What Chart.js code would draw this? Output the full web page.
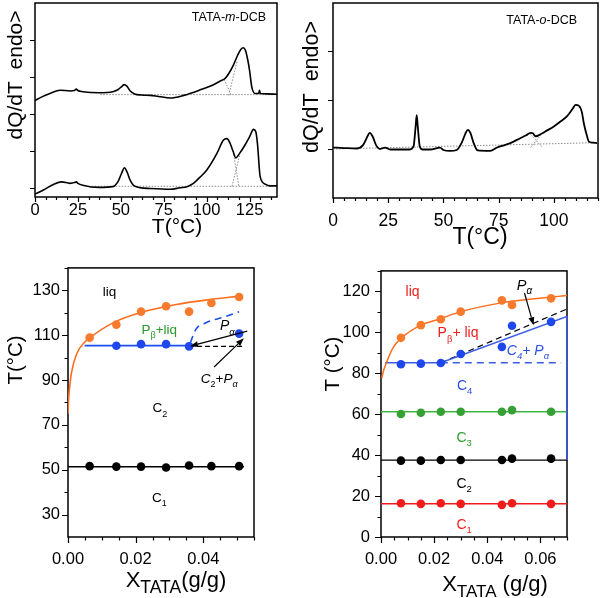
<!DOCTYPE html>
<html><head><meta charset="utf-8">
<script src="https://cdn.jsdelivr.net/npm/chart.js@4.4.0/dist/chart.umd.min.js"></script>
<style>
html,body{margin:0;padding:0;background:#fff;}
#wrap{position:relative;width:600px;height:598px;overflow:hidden;background:#fff;}
canvas{position:absolute;}
</style></head><body><div id="wrap">
<canvas id="cA" style="left:0;top:0" width="300" height="250"></canvas>
<canvas id="cB" style="left:300px;top:0" width="300" height="250"></canvas>
<canvas id="cC" style="left:0;top:250px" width="300" height="348"></canvas>
<canvas id="cD" style="left:300px;top:250px" width="300" height="348"></canvas>
</div>
<script>
// ---------- DATA: top-left DSC (TATA-m-DCB) ----------
const mUpperT = [0, 4, 8.7, 14.6, 20.4, 23, 24, 25, 27.8, 37.5, 45.3, 48.5, 50.5, 52, 53.5, 55.5, 58, 62, 67.1, 72, 78.8, 86.6, 96.3, 104, 108, 110.8, 113, 115.6, 118, 120, 121.3, 122.6, 124, 125, 126.3, 128.2, 130.3, 130.8, 131.3, 135, 141];
const mUpperV = [2.36, 2.46, 2.55, 2.64, 2.62, 2.63, 2.67, 2.63, 2.6, 2.57, 2.6, 2.66, 2.74, 2.79, 2.75, 2.62, 2.54, 2.51, 2.5, 2.47, 2.43, 2.5, 2.65, 2.79, 2.89, 2.96, 3.1, 3.32, 3.58, 3.75, 3.79, 3.72, 3.45, 3.18, 2.73, 2.55, 2.55, 2.64, 2.55, 2.54, 2.53];
const mLowerT = [0, 4.9, 10.7, 15.5, 20.4, 23, 24, 25, 27.8, 37.5, 45.3, 48.5, 50.5, 52.1, 53.7, 55.5, 58.2, 67.1, 78.8, 84.5, 88.6, 92.3, 96, 100.1, 106, 109.8, 111.8, 113.5, 115.3, 117, 119.2, 122, 125, 127.3, 128.6, 129.6, 131.2, 134.1, 137, 141];
const mLowerV = [-0.17, -0.06, 0.09, 0.16, 0.12, 0.14, 0.16, 0.12, 0.07, 0.01, 0.03, 0.18, 0.4, 0.54, 0.42, 0.2, 0.04, -0.02, -0.04, 0.0, 0.03, 0.12, 0.28, 0.48, 0.93, 1.29, 1.33, 1.22, 1.0, 0.81, 0.93, 1.13, 1.38, 1.58, 1.52, 1.2, 0.3, 0.1, 0.05, 0.05];
const mUpperBaseT = [38, 141];
const mUpperBaseV = [2.52, 2.52];
const mUpperDecoAT = [110.2, 114.5];
const mUpperDecoAV = [2.93, 2.5];
const mUpperDecoBT = [112.8, 117.8];
const mUpperDecoBV = [2.5, 3.42];
const mLowerBaseT = [33, 137];
const mLowerBaseV = [0.04, 0.04];
const mLowerDecoAT = [114.8, 119.3];
const mLowerDecoAV = [0.04, 0.9];
const mLowerDecoBT = [115.8, 118.8];
const mLowerDecoBV = [0.9, 0.04];
const mTicksX = [0, 25, 50, 75, 100, 125];

// ---------- DATA: top-right DSC (TATA-o-DCB) ----------
const oT = [0, 5, 10.6, 13.6, 15, 16.7, 18, 19.5, 21.3, 23.6, 25.9, 30, 34.8, 36.5, 37.4, 37.9, 38.4, 39.3, 40.5, 44, 48.5, 50, 53, 56, 58.5, 60, 61.1, 62.3, 63.7, 65.5, 71.2, 74.3, 77, 80.3, 84.8, 87.5, 89.4, 90.5, 91.7, 94, 97, 100, 103, 106, 108.5, 109.8, 111.4, 112.7, 113.6, 114.8, 115.9, 117.5, 119.7];
const oV = [1.03, 1.02, 1.01, 1.08, 1.2, 1.33, 1.25, 1.08, 1.0, 1.03, 0.99, 0.99, 0.99, 1.06, 1.45, 1.69, 1.45, 1.05, 0.99, 0.99, 1.03, 0.98, 0.96, 0.98, 1.15, 1.32, 1.39, 1.32, 1.12, 0.97, 0.96, 1.03, 1.07, 1.12, 1.22, 1.28, 1.33, 1.32, 1.26, 1.3, 1.38, 1.46, 1.56, 1.67, 1.82, 1.9, 1.88, 1.75, 1.52, 1.3, 1.15, 1.13, 1.12];
const oBaseT = [0, 120];
const oBaseV = [1.0, 1.13];
const oDecoAT = [89.5, 94];
const oDecoAV = [1.03, 1.28];
const oDecoBT = [89.5, 94.5];
const oDecoBV = [1.3, 1.05];
const oTicksX = [0, 25, 50, 75, 100];

// ---------- DATA: bottom-left phase diagram (m-DCB) ----------
const cX = [0.0064, 0.0143, 0.0216, 0.029, 0.0358, 0.0424, 0.0506];
const cLiqPtY = [108.9, 114.7, 120.5, 122.9, 120.5, 124.4, 127.0];
const cC1PtY = [51.6, 51.4, 51.4, 51.0, 51.9, 51.6, 51.6];
const cTransX = [0.0143, 0.0216, 0.029, 0.0358, 0.0506];
const cTransY = [105.3, 106, 106, 105, 110.7];
const cLiqCurveX = [0, 0.0002, 0.0005, 0.001, 0.0025, 0.005, 0.007, 0.0133, 0.022, 0.032, 0.042, 0.0506];
const cLiqCurveY = [75, 82, 87, 93, 101.5, 107, 109.5, 115.5, 120.3, 123.7, 125.9, 127.4];
const cTransLineX = [0.0049, 0.0358];
const cTransLineY = [105.3, 105.3];
const cPaCurveX = [0.0362, 0.0378, 0.0408, 0.0467, 0.0506];
const cPaCurveY = [106.7, 112.6, 115.5, 118.4, 120.5];
const cDashX = [0.0358, 0.052];
const cDashY = [105, 105];
const cC1LineX = [0, 0.052];
const cC1LineY = [51.3, 51.3];
const cTicksX = [0, 0.02, 0.04];
const cTicksY = [30, 50, 70, 90, 110, 130];

// ---------- DATA: bottom-right phase diagram (o-DCB) ----------
const dX = [0.0075, 0.015, 0.0225, 0.03, 0.0455, 0.0493, 0.064];
const dLiqPtY = [97.3, 103.5, 106.4, 110.1, 115.6, 113.4, 116.6];
const dC4PtY = [84.4, 84.7, 85.0, 89.4, 92.9, 103.2, 105.1];
const dC3PtY = [60.1, 60.7, 61.2, 61.2, 61.2, 62.0, 61.2];
const dC2PtY = [37.3, 37.3, 37.6, 37.6, 37.6, 38.3, 38.3];
const dC1PtY = [16.5, 16.2, 16.5, 16.2, 15.7, 16.5, 16.2];
const dLiqCurveX = [0.0003, 0.001, 0.0019, 0.0046, 0.0078, 0.015, 0.0225, 0.03, 0.0459, 0.0559, 0.07];
const dLiqCurveY = [77.6, 81.5, 84.7, 92.6, 97.3, 103.5, 106.7, 110.1, 114.5, 116.1, 118];
const dC4LineX = [0.0015, 0.0225, 0.07];
const dC4LineY = [85.1, 85.1, 107.8];
const dC4DashX = [0.0225, 0.0678];
const dC4DashY = [85.1, 85.1];
const dPaDashX = [0.0225, 0.07];
const dPaDashY = [85.1, 111.4];
const dEdgeX = [0.07, 0.07];
const dEdgeY = [37.6, 107.8];
const dC3LineX = [0, 0.07];
const dC3LineY = [61.2, 61.2];
const dC2LineX = [0, 0.07];
const dC2LineY = [37.6, 37.6];
const dC1LineX = [0, 0.07];
const dC1LineY = [16.2, 16.2];
const dTicksX = [0, 0.02, 0.04, 0.06];
const dTicksY = [0, 20, 40, 60, 80, 100, 120];

// ---------- helpers ----------
const FONT = "'Liberation Sans', Arial, Helvetica, sans-serif";
Chart.defaults.font.family = FONT;
Chart.defaults.color = '#000';

function xy(xs, ys) { return xs.map((x, i) => ({ x: x, y: ys[i] })); }
function steps(a, b, s) { const r = []; for (let v = a; v <= b + 1e-9; v += s) r.push(+v.toFixed(6)); return r; }
function lineDS(xs, ys, color, width, dash, extra) {
  return Object.assign({ data: xy(xs, ys), showLine: true, borderColor: color, backgroundColor: color,
    borderWidth: width, borderDash: dash || [], pointRadius: 0, pointHoverRadius: 0, order: 2, tension: 0 }, extra || {});
}
function ptsDS(xs, ys, color, r) {
  return { data: xy(xs, ys), showLine: false, pointRadius: r, pointHoverRadius: r,
    backgroundColor: color, borderColor: color, borderWidth: 0, order: 0 };
}
function fontOf(p, base) {
  const s = p.sub ? (p.ss || base * 0.7) : base;
  return (p.i ? 'italic ' : '') + s + 'px ' + FONT;
}
function richWidth(ctx, parts, base) {
  let w = 0;
  for (const p of parts) { ctx.font = fontOf(p, base); w += ctx.measureText(p.t).width; }
  return w;
}
function drawRich(ctx, x, y, parts, base, color, align) {
  const w = richWidth(ctx, parts, base);
  let cx = align === 'left' ? x : x - w / 2;
  ctx.fillStyle = color;
  ctx.textBaseline = 'alphabetic';
  ctx.textAlign = 'left';
  for (const p of parts) {
    ctx.font = fontOf(p, base);
    ctx.fillText(p.t, cx, y + (p.sub ? (p.dy != null ? p.dy : base * 0.3) : 0));
    cx += ctx.measureText(p.t).width;
  }
}
function arrow(ctx, x1, y1, x2, y2, color) {
  ctx.save();
  ctx.strokeStyle = color; ctx.fillStyle = color; ctx.lineWidth = 1.2;
  const ang = Math.atan2(y2 - y1, x2 - x1), L = 8, W = 3;
  const bx = x2 - L * Math.cos(ang), by = y2 - L * Math.sin(ang);
  ctx.beginPath(); ctx.moveTo(x1, y1); ctx.lineTo(bx, by); ctx.stroke();
  ctx.beginPath(); ctx.moveTo(x2, y2);
  ctx.lineTo(bx + W * Math.sin(ang), by - W * Math.cos(ang));
  ctx.lineTo(bx - W * Math.sin(ang), by + W * Math.cos(ang));
  ctx.closePath(); ctx.fill();
  ctx.restore();
}
function makeDecor(cfg) {
  return {
    id: 'decor',
    beforeDatasetsDraw(chart) {
      const ctx = chart.ctx, a = chart.chartArea;
      ctx.save(); ctx.strokeStyle = '#000'; ctx.lineWidth = 1.5;
      ctx.strokeRect(a.left, a.top, a.right - a.left, a.bottom - a.top);
      ctx.restore();
    },
    afterDatasetsDraw(chart) {
      const ctx = chart.ctx, a = chart.chartArea, xs = chart.scales.x, ys = chart.scales.y;
      ctx.save();
      ctx.strokeStyle = '#000'; ctx.lineWidth = 1.2;
      ctx.beginPath();
      const tk = cfg.ticks;
      for (const v of tk.xMajor) { const p = Math.round(xs.getPixelForValue(v)) + 0.5; ctx.moveTo(p, a.bottom); ctx.lineTo(p, a.bottom + tk.majLen); }
      for (const v of tk.xMinor) { const p = Math.round(xs.getPixelForValue(v)) + 0.5; ctx.moveTo(p, a.bottom); ctx.lineTo(p, a.bottom + tk.minLen); }
      for (const v of tk.yMajor) { const p = Math.round(ys.getPixelForValue(v)) + 0.5; ctx.moveTo(a.left, p); ctx.lineTo(a.left - tk.majLen, p); }
      for (const v of tk.yMinor) { const p = Math.round(ys.getPixelForValue(v)) + 0.5; ctx.moveTo(a.left, p); ctx.lineTo(a.left - tk.minLen, p); }
      ctx.stroke();
      for (const ar of (cfg.arrows || [])) {
        arrow(ctx, xs.getPixelForValue(ar.x1), ys.getPixelForValue(ar.y1), xs.getPixelForValue(ar.x2), ys.getPixelForValue(ar.y2), ar.color || '#000');
      }
      for (const lb of (cfg.labels || [])) {
        drawRich(ctx, xs.getPixelForValue(lb.x), ys.getPixelForValue(lb.y) + lb.size * 0.36, lb.parts, lb.size, lb.color || '#000', 'center');
      }
      for (const t of (cfg.titles || [])) {
        if (t.rot) {
          ctx.save(); ctx.translate(t.x, t.y); ctx.rotate(-Math.PI / 2);
          drawRich(ctx, 0, t.size * 0.36, t.parts, t.size, '#000', 'center');
          ctx.restore();
        } else {
          drawRich(ctx, t.x, t.y, t.parts, t.size, '#000', 'center');
        }
      }
      ctx.restore();
    }
  };
}
function makeChart(id, o) {
  return new Chart(document.getElementById(id), {
    type: 'scatter',
    data: { datasets: o.datasets },
    options: {
      responsive: false, animation: false, devicePixelRatio: 1, events: [],
      layout: { padding: { top: o.padTop, right: o.padRight, left: 0, bottom: 0 } },
      plugins: { legend: { display: false }, tooltip: { enabled: false } },
      scales: {
        x: {
          type: 'linear', min: o.xMin, max: o.xMax,
          grid: { display: false, drawTicks: false }, border: { display: false },
          afterBuildTicks: s => { s.ticks = o.xTicks.map(v => ({ value: v })); },
          afterFit: s => { s.height = o.xH; },
          ticks: { padding: o.xPad, font: { size: o.tickSize }, color: '#000', maxRotation: 0, autoSkip: false,
                   callback: v => o.xFmt(v) }
        },
        y: {
          type: 'linear', min: o.yMin, max: o.yMax,
          grid: { display: false, drawTicks: false }, border: { display: false },
          afterBuildTicks: s => { s.ticks = o.yTicks.map(v => ({ value: v })); },
          afterFit: s => { s.width = o.yW; },
          ticks: { display: o.yLabels, padding: o.yPad, font: { size: o.tickSize }, color: '#000', autoSkip: false,
                   callback: v => String(v) }
        }
      }
    },
    plugins: [makeDecor(o.decor)]
  });
}

const GRAY = '#8a8a8a';
const DOT = [1.5, 1.5];
const mono = { cubicInterpolationMode: 'monotone' };
const dqTitle = [{ t: 'dQ/dT  endo>' }];

// ---------- Panel A: top-left ----------
makeChart('cA', {
  xMin: 0, xMax: 141, yMin: -0.25, yMax: 5, xTicks: mTicksX, yTicks: [0, 1, 2, 3, 4],
  xFmt: v => String(v), yLabels: false, tickSize: 16.5, xPad: 4, yPad: 4,
  padTop: 3, padRight: 23, xH: 53, yW: 35,
  datasets: [
    lineDS(mUpperBaseT, mUpperBaseV, GRAY, 1, DOT),
    lineDS(mUpperDecoAT, mUpperDecoAV, GRAY, 1, DOT),
    lineDS(mUpperDecoBT, mUpperDecoBV, GRAY, 1, DOT),
    lineDS(mLowerBaseT, mLowerBaseV, GRAY, 1, DOT),
    lineDS(mLowerDecoAT, mLowerDecoAV, GRAY, 1, DOT),
    lineDS(mLowerDecoBT, mLowerDecoBV, GRAY, 1, DOT),
    lineDS(mUpperT, mUpperV, '#000', 1.6, [], Object.assign({ order: 1 }, mono)),
    lineDS(mLowerT, mLowerV, '#000', 1.6, [], Object.assign({ order: 1 }, mono))
  ],
  decor: {
    ticks: { xMajor: mTicksX, xMinor: steps(0, 141, 6.25).filter(v => v % 25 !== 0), yMajor: [0, 1, 2, 3, 4], yMinor: [], majLen: 5, minLen: 3 },
    labels: [{ x: 113, y: 4.64, size: 12.5, parts: [{ t: 'TATA-' }, { t: 'm', i: 1 }, { t: '-DCB' }] }],
    titles: [
      { rot: true, x: 14, y: 75, size: 21, parts: dqTitle },
      { x: 177, y: 233, size: 21, parts: [{ t: 'T(°C)' }] }
    ]
  }
});

// ---------- Panel B: top-right ----------
makeChart('cB', {
  xMin: 0, xMax: 120, yMin: 0, yMax: 3.98, xTicks: oTicksX, yTicks: [1, 2, 3],
  xFmt: v => String(v), yLabels: false, tickSize: 17.5, xPad: 13, yPad: 4,
  padTop: 3, padRight: 2, xH: 52, yW: 33,
  datasets: [
    lineDS(oBaseT, oBaseV, GRAY, 1, DOT),
    lineDS(oDecoAT, oDecoAV, GRAY, 1, DOT),
    lineDS(oDecoBT, oDecoBV, GRAY, 1, DOT),
    lineDS(oT, oV, '#000', 1.8, [], Object.assign({ order: 1 }, mono))
  ],
  decor: {
    ticks: { xMajor: oTicksX, xMinor: steps(0, 120, 5).filter(v => v % 25 !== 0), yMajor: [1, 2, 3], yMinor: [], majLen: 5, minLen: 3 },
    labels: [{ x: 94.5, y: 3.64, size: 12.5, parts: [{ t: 'TATA-' }, { t: 'o', i: 1 }, { t: '-DCB' }] }],
    titles: [
      { rot: true, x: 10, y: 87, size: 21.5, parts: dqTitle },
      { x: 180, y: 244, size: 23, parts: [{ t: 'T(°C)' }] }
    ]
  }
});

// ---------- Panel C: bottom-left ----------
const ORANGE_L = '#ff6d1c', ORANGE_P = '#f77a2d', BLUE_L = '#1a4ff2', BLUE_P = '#1f47ee';
makeChart('cC', {
  xMin: 0, xMax: 0.055, yMin: 20, yMax: 140, xTicks: cTicksX, yTicks: cTicksY,
  xFmt: v => v.toFixed(2), yLabels: true, tickSize: 16.5, xPad: 13, yPad: 8,
  padTop: 10, padRight: 46, xH: 61, yW: 68,
  datasets: [
    ptsDS(cX, cLiqPtY, ORANGE_P, 4.3),
    ptsDS(cTransX, cTransY, BLUE_P, 4.3),
    ptsDS(cX, cC1PtY, '#000', 4.3),
    lineDS(cLiqCurveX, cLiqCurveY, ORANGE_L, 1.6, [], mono),
    lineDS(cTransLineX, cTransLineY, BLUE_L, 1.8),
    lineDS(cPaCurveX, cPaCurveY, BLUE_L, 1.6, [7, 5], mono),
    lineDS(cDashX, cDashY, '#000', 1.2, [5, 3]),
    lineDS(cC1LineX, cC1LineY, '#000', 1.4)
  ],
  decor: {
    ticks: { xMajor: cTicksX, xMinor: steps(0, 0.055, 0.005).filter(v => Math.abs(v / 0.02 - Math.round(v / 0.02)) > 1e-6), yMajor: cTicksY, yMinor: steps(40, 140, 20), majLen: 6, minLen: 3.5 },
    arrows: [
      { x1: 0.053, y1: 111.8, x2: 0.0361, y2: 105.1 },
      { x1: 0.0432, y1: 95.8, x2: 0.052, y2: 108.6 }
    ],
    labels: [
      { x: 0.0123, y: 129.6, size: 13.5, parts: [{ t: 'liq' }] },
      { x: 0.027, y: 112.6, size: 13.5, color: '#2a9a2a', parts: [{ t: 'P' }, { t: 'β', sub: 1, ss: 9 }, { t: '+liq' }] },
      { x: 0.0471, y: 114.4, size: 14, parts: [{ t: 'P', i: 1 }, { t: 'α', sub: 1, i: 1, ss: 9.5 }] },
      { x: 0.0447, y: 90.8, size: 13.5, parts: [{ t: 'C', i: 1 }, { t: '2', sub: 1, ss: 9 }, { t: '+' }, { t: 'P', i: 1 }, { t: 'α', sub: 1, i: 1, ss: 9 }] },
      { x: 0.0272, y: 77.7, size: 13.5, parts: [{ t: 'C' }, { t: '2', sub: 1, ss: 9 }] },
      { x: 0.027, y: 37.8, size: 13.5, parts: [{ t: 'C' }, { t: '1', sub: 1, ss: 9 }] }
    ],
    titles: [
      { rot: true, x: 15, y: 110, size: 20.5, parts: [{ t: 'T(°C)' }] },
      { x: 176, y: 337, size: 22, parts: [{ t: 'X' }, { t: 'TATA', sub: 1, ss: 17.5, dy: 6 }, { t: '(g/g)' }] }
    ]
  }
});

// ---------- Panel D: bottom-right ----------
const BLUE_R = '#3b5fe4', GREEN_L = '#3fb43f', GREEN_P = '#35a135', RED = '#f01c1c';
makeChart('cD', {
  xMin: 0, xMax: 0.07, yMin: 0, yMax: 130, xTicks: dTicksX, yTicks: dTicksY,
  xFmt: v => v.toFixed(2), yLabels: true, tickSize: 16.5, xPad: 13, yPad: 11,
  padTop: 10, padRight: 33, xH: 61, yW: 81,
  datasets: [
    ptsDS(dX, dLiqPtY, ORANGE_P, 4.3),
    ptsDS(dX, dC4PtY, BLUE_P, 4.3),
    ptsDS(dX, dC3PtY, GREEN_P, 4.3),
    ptsDS(dX, dC2PtY, '#000', 4.3),
    ptsDS(dX, dC1PtY, RED, 4.3),
    lineDS(dLiqCurveX, dLiqCurveY, ORANGE_L, 1.5, [], mono),
    lineDS(dC4LineX, dC4LineY, BLUE_R, 1.5),
    lineDS(dC4DashX, dC4DashY, BLUE_R, 1.5, [7, 5]),
    lineDS(dPaDashX, dPaDashY, '#000', 1.2, [6, 4]),
    lineDS(dEdgeX, dEdgeY, BLUE_R, 1.5, [], { clip: 4 }),
    lineDS(dC3LineX, dC3LineY, GREEN_L, 1.5),
    lineDS(dC2LineX, dC2LineY, '#000', 1.3),
    lineDS(dC1LineX, dC1LineY, RED, 1.5)
  ],
  decor: {
    ticks: { xMajor: dTicksX, xMinor: steps(0, 0.07, 0.005).filter(v => Math.abs(v / 0.02 - Math.round(v / 0.02)) > 1e-6), yMajor: dTicksY, yMinor: steps(10, 130, 20), majLen: 6, minLen: 3.5 },
    arrows: [ { x1: 0.054, y1: 119.2, x2: 0.0574, y2: 103.5 } ],
    labels: [
      { x: 0.0119, y: 120.3, size: 14, color: RED, parts: [{ t: 'liq' }] },
      { x: 0.029, y: 100, size: 14, color: RED, parts: [{ t: 'P' }, { t: 'β', sub: 1, ss: 9.5 }, { t: '+ liq' }] },
      { x: 0.054, y: 123.2, size: 14.5, parts: [{ t: 'P', i: 1 }, { t: 'α', sub: 1, i: 1, ss: 10 }] },
      { x: 0.0553, y: 91.5, size: 14, color: '#2a4fe6', parts: [{ t: 'C', i: 1 }, { t: '4', sub: 1, i: 1, ss: 9.5 }, { t: '+ ', i: 1 }, { t: 'P', i: 1 }, { t: 'α', sub: 1, i: 1, ss: 9.5 }] },
      { x: 0.0315, y: 74.2, size: 14, color: '#2a4fe6', parts: [{ t: 'C' }, { t: '4', sub: 1, ss: 9.5 }] },
      { x: 0.0313, y: 49, size: 14, color: '#2f9f2f', parts: [{ t: 'C' }, { t: '3', sub: 1, ss: 9.5 }] },
      { x: 0.0313, y: 26.4, size: 14, parts: [{ t: 'C' }, { t: '2', sub: 1, ss: 9.5 }] },
      { x: 0.0313, y: 6.6, size: 14, color: RED, parts: [{ t: 'C' }, { t: '1', sub: 1, ss: 9.5 }] }
    ],
    titles: [
      { rot: true, x: 32, y: 114, size: 20.5, parts: [{ t: 'T (°C)' }] },
      { x: 195, y: 341, size: 22, parts: [{ t: 'X' }, { t: 'TATA', sub: 1, ss: 17, dy: 6 }, { t: ' (g/g)' }] }
    ]
  }
});
</script>
</body></html>
